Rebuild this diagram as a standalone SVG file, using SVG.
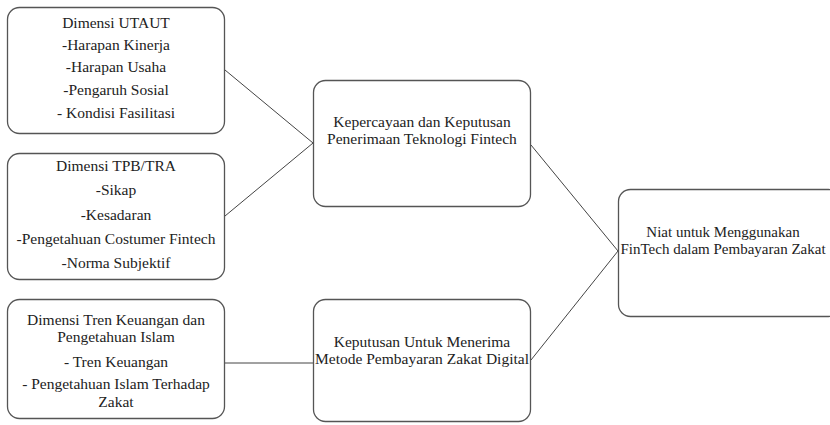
<svg xmlns="http://www.w3.org/2000/svg" width="830" height="425" viewBox="0 0 830 425">
<style>
.box{fill:#fff;stroke:#555;stroke-width:1.3}
.t{font-family:"Liberation Serif","DejaVu Serif",serif;font-size:15.5px;fill:#222;text-anchor:middle}
.s{font-size:15px}
.c{stroke:#444;stroke-width:1;fill:none}
</style>
<rect width="830" height="425" fill="#fff"/>
<g id="connectors">
<line class="c" x1="225" y1="70" x2="313" y2="143"/>
<line class="c" x1="225" y1="216" x2="313" y2="143"/>
<line class="c" x1="225" y1="363" x2="313" y2="363"/>
<line class="c" x1="531" y1="145" x2="618" y2="251"/>
<line class="c" x1="531" y1="360" x2="618" y2="251"/>
</g>
<g id="utaut">
<rect class="box" x="7.5" y="7.5" width="217" height="126" rx="12"/>
<text class="t" x="116" y="28">Dimensi UTAUT</text>
<text class="t" x="116" y="50">-Harapan Kinerja</text>
<text class="t" x="116" y="72">-Harapan Usaha</text>
<text class="t" x="116" y="95">-Pengaruh Sosial</text>
<text class="t" x="116" y="118">- Kondisi Fasilitasi</text>
</g>
<g id="tpb">
<rect class="box" x="7.5" y="153.5" width="217" height="126" rx="12"/>
<text class="t" x="116" y="171">Dimensi TPB/TRA</text>
<text class="t" x="116" y="195">-Sikap</text>
<text class="t" x="116" y="220">-Kesadaran</text>
<text class="t" x="116" y="244">-Pengetahuan Costumer Fintech</text>
<text class="t" x="116" y="268">-Norma Subjektif</text>
</g>
<g id="tren">
<rect class="box" x="7.5" y="299.5" width="217" height="119" rx="12"/>
<text class="t" x="116" y="325">Dimensi Tren Keuangan dan</text>
<text class="t" x="116" y="342">Pengetahuan Islam</text>
<text class="t" x="116" y="367">- Tren Keuangan</text>
<text class="t" x="116" y="389">- Pengetahuan Islam Terhadap</text>
<text class="t" x="116" y="407">Zakat</text>
</g>
<g id="kepercayaan">
<rect class="box" x="313.5" y="80.5" width="217" height="126" rx="12"/>
<text class="t" x="422" y="127">Kepercayaan dan Keputusan</text>
<text class="t" x="422" y="144">Penerimaan Teknologi Fintech</text>
</g>
<g id="keputusan">
<rect class="box" x="313.5" y="299.5" width="217" height="122" rx="12"/>
<text class="t" x="422" y="347">Keputusan Untuk Menerima</text>
<text class="t" x="422" y="364">Metode Pembayaran Zakat Digital</text>
</g>
<g id="niat">
<rect class="box" x="618.5" y="189.5" width="222" height="127" rx="12"/>
<text class="t s" x="723" y="237">Niat untuk Menggunakan</text>
<text class="t s" x="723" y="254">FinTech dalam Pembayaran Zakat</text>
</g>
</svg>
